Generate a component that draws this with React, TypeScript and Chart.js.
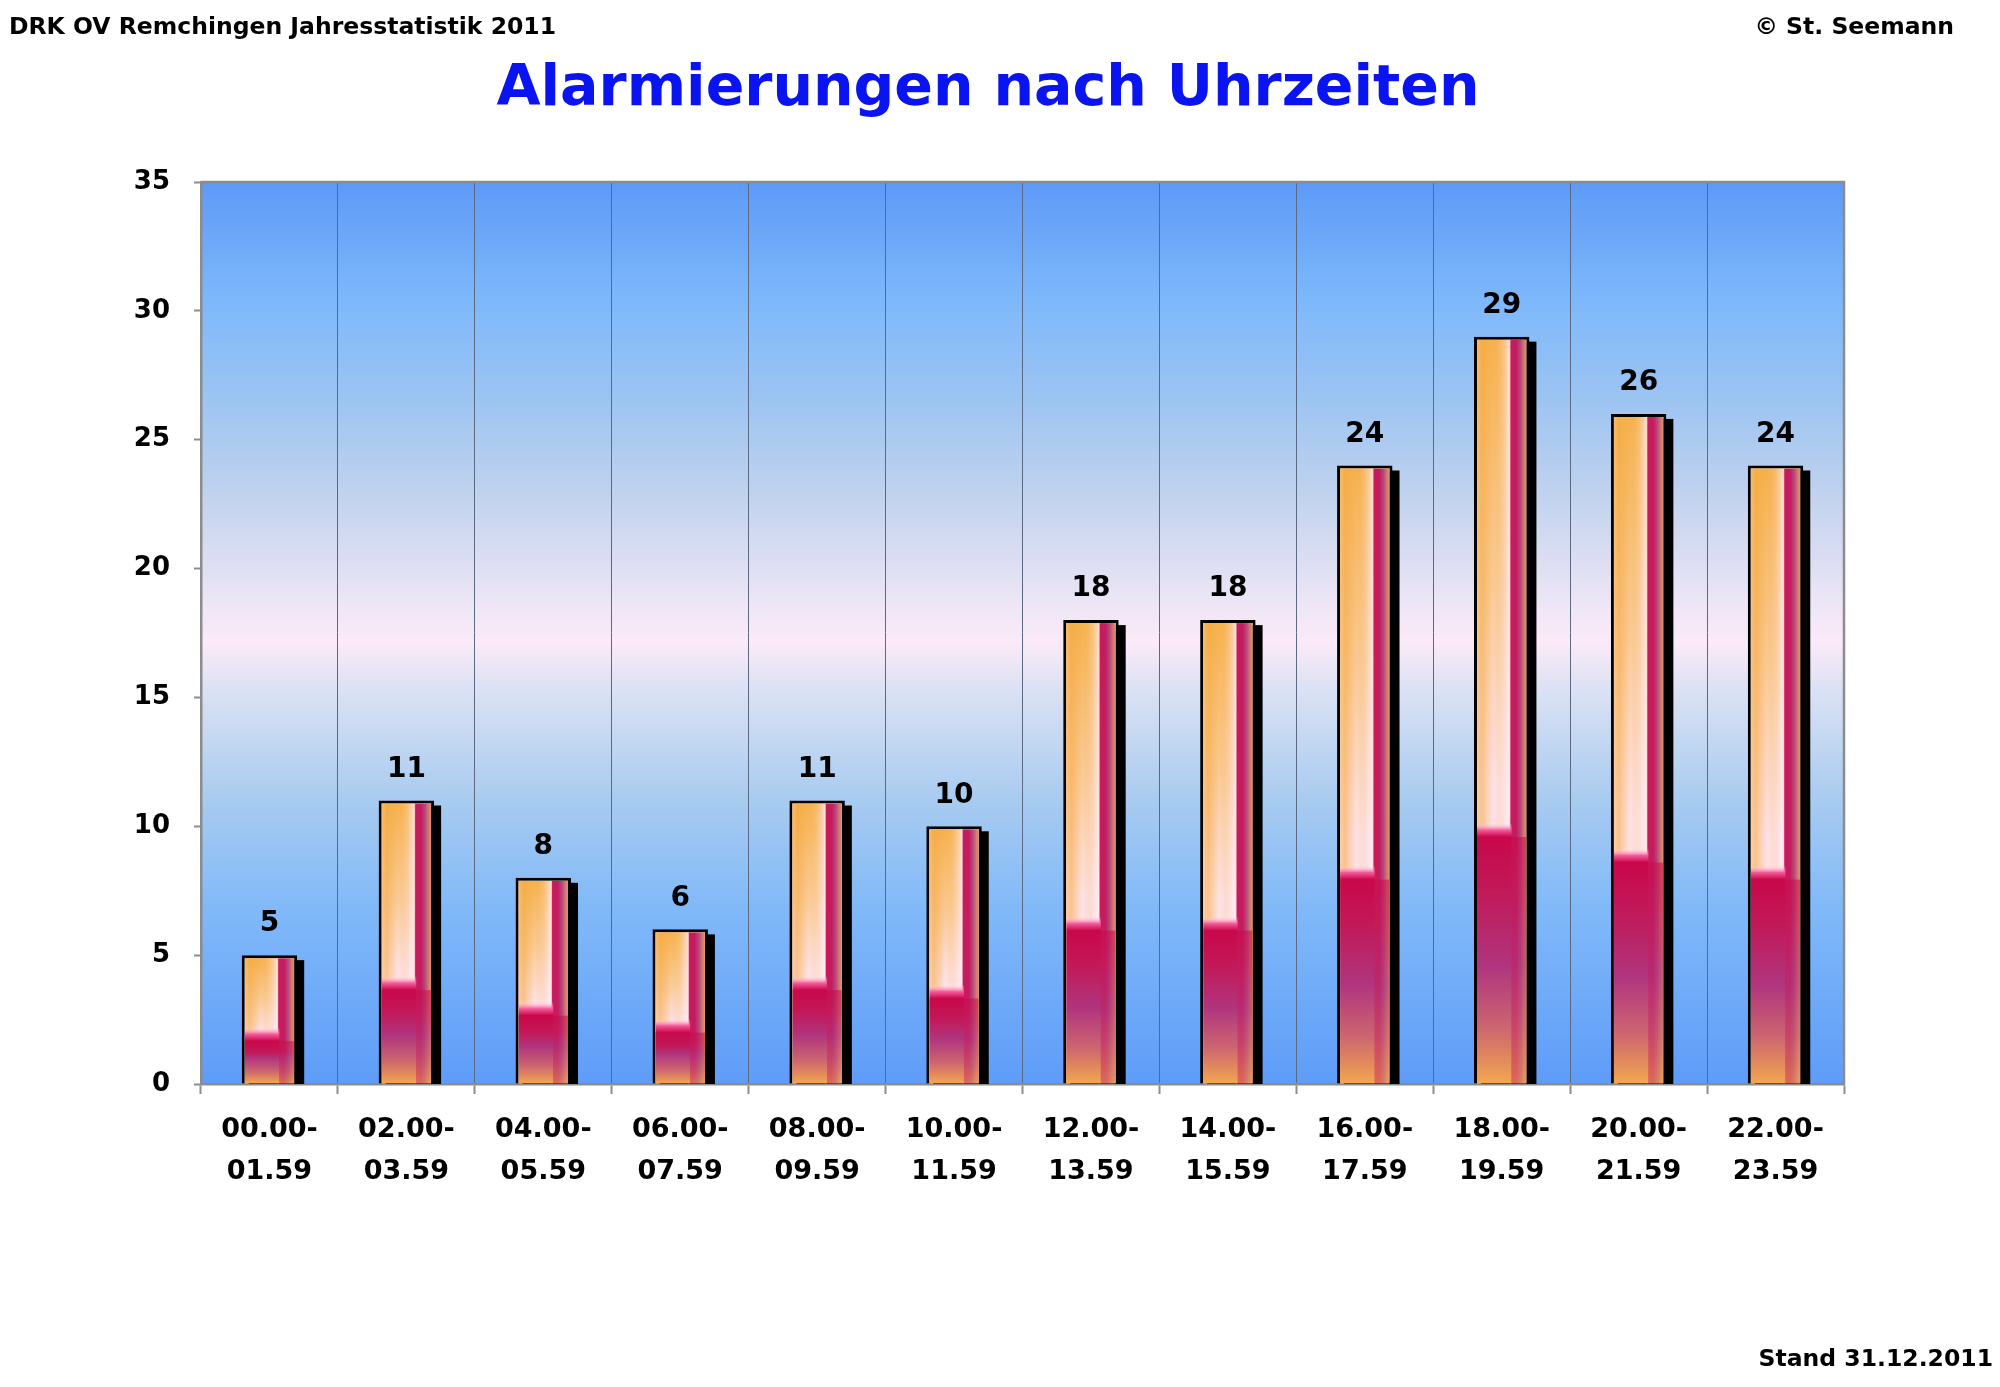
import React, { useRef, useEffect } from "react";
import { Chart, registerables } from "chart.js";

Chart.register(...registerables);

const timeSlots = [
  ["00.00-", "01.59"],
  ["02.00-", "03.59"],
  ["04.00-", "05.59"],
  ["06.00-", "07.59"],
  ["08.00-", "09.59"],
  ["10.00-", "11.59"],
  ["12.00-", "13.59"],
  ["14.00-", "15.59"],
  ["16.00-", "17.59"],
  ["18.00-", "19.59"],
  ["20.00-", "21.59"],
  ["22.00-", "23.59"],
];
const alarmCounts = [5, 11, 8, 6, 11, 10, 18, 18, 24, 29, 26, 24];

const FONT = "'DejaVu Sans', sans-serif";

// sky-like backdrop behind the bars + grey frame on top/right
const plotBackground = {
  id: "plotBackground",
  beforeDraw(chart: any) {
    const { ctx, chartArea: a } = chart;
    const g = ctx.createLinearGradient(0, a.top, 0, a.bottom);
    g.addColorStop(0, "#5e99f7");
    g.addColorStop(0.13, "#7db8fb");
    g.addColorStop(0.24, "#9cc4f2");
    g.addColorStop(0.35, "#c2d3ee");
    g.addColorStop(0.47, "#eee6f6");
    g.addColorStop(0.51, "#fceaf8");
    g.addColorStop(0.56, "#dce2f4");
    g.addColorStop(0.68, "#aaccf0");
    g.addColorStop(0.8, "#82baf8");
    g.addColorStop(1, "#5e9cf8");
    ctx.save();
    ctx.fillStyle = g;
    ctx.fillRect(a.left, a.top, a.width, a.height);
    ctx.restore();
  },
  afterDraw(chart: any) {
    const { ctx, chartArea: a } = chart;
    ctx.save();
    ctx.strokeStyle = "#8c8c8c";
    ctx.lineWidth = 2.5;
    ctx.beginPath();
    ctx.moveTo(a.left, a.top);
    ctx.lineTo(a.right, a.top);
    ctx.lineTo(a.right, a.bottom);
    ctx.stroke();
    ctx.restore();
  },
};

// drop shadow, tube-like fill and value labels for every bar
const barArt = {
  id: "barArt",
  beforeDatasetsDraw(chart: any) {
    const { ctx, chartArea: a } = chart;
    const meta = chart.getDatasetMeta(0);
    ctx.save();
    ctx.beginPath();
    ctx.rect(a.left, a.top, a.width, a.height);
    ctx.clip();
    ctx.fillStyle = "#000";
    meta.data.forEach((el: any) => {
      const { x, y, base, width } = el.getProps(["x", "y", "base", "width"], true);
      ctx.fillRect(x - width / 2 + 7, y + 5, width, base - y);
    });
    ctx.restore();
  },
  afterDatasetsDraw(chart: any) {
    const { ctx } = chart;
    const meta = chart.getDatasetMeta(0);
    const bw = 3;
    meta.data.forEach((el: any, i: number) => {
      const { x, y, base, width } = el.getProps(["x", "y", "base", "width"], true);
      const L = x - width / 2 + bw;
      const R = x + width / 2 - bw;
      const T = y + bw;
      const B = base;
      const W = R - L;
      const H = B - T;
      const S = B - (base - y) * 0.33;
      const splitX = L + W * 0.66;

      ctx.save();
      ctx.beginPath();
      ctx.rect(L, T, W, H);
      ctx.clip();

      // upper left part: orange fading to pale pink
      let g = ctx.createLinearGradient(0, T, 0, S);
      g.addColorStop(0, "#f6b24e");
      g.addColorStop(0.5, "#facb98");
      g.addColorStop(0.9, "#ffe3ea");
      g.addColorStop(1, "#ffe3ea");
      ctx.fillStyle = g;
      ctx.fillRect(L, T, splitX - L, S - T);
      g = ctx.createLinearGradient(L, 0, splitX, 0);
      g.addColorStop(0, "rgba(248,192,128,0.6)");
      g.addColorStop(0.15, "rgba(245,168,64,0.55)");
      g.addColorStop(0.5, "rgba(245,168,64,0)");
      g.addColorStop(0.9, "rgba(255,232,240,0.5)");
      g.addColorStop(1, "rgba(255,236,242,0.8)");
      ctx.fillStyle = g;
      ctx.fillRect(L, T, splitX - L, S - T);

      // right strip
      g = ctx.createLinearGradient(splitX, 0, R, 0);
      g.addColorStop(0, "#fce4ec");
      g.addColorStop(0.08, "#c81a5c");
      g.addColorStop(0.4, "#c41c60");
      g.addColorStop(0.65, "#b84a7c");
      g.addColorStop(0.85, "#d07a70");
      g.addColorStop(1, "#e0946a");
      ctx.fillStyle = g;
      ctx.fillRect(splitX, T, R - splitX, H);

      // lower part: hot pink to crimson to purple to orange
      const bandTop = S - 14;
      g = ctx.createLinearGradient(0, bandTop, 0, B);
      const f = (v: number) => Math.min(1, Math.max(0, v));
      const lh = B - bandTop;
      g.addColorStop(0, "rgba(255,220,232,0)");
      g.addColorStop(f(7 / lh), "#f65a9c");
      g.addColorStop(f(14 / lh), "#c8084a");
      g.addColorStop(f(14 / lh + 0.2), "#c21858");
      g.addColorStop(0.55, "#b0357e");
      g.addColorStop(0.78, "#cc6470");
      g.addColorStop(0.92, "#e48e5a");
      g.addColorStop(1, "#f2a850");
      ctx.fillStyle = g;
      ctx.fillRect(L, bandTop, W * 0.7, lh);
      ctx.globalAlpha = 0.55;
      ctx.fillRect(L + W * 0.7, S, W * 0.3, B - S);
      ctx.restore();

      // value label
      ctx.save();
      ctx.font = `bold 28px ${FONT}`;
      ctx.fillStyle = "#000";
      ctx.textAlign = "center";
      ctx.textBaseline = "middle";
      ctx.fillText(String(alarmCounts[i]), x, y - 31);
      ctx.restore();
    });
  },
};

const App = () => {
  const chartRef = useRef<HTMLCanvasElement>(null);
  const chartInstanceRef = useRef<Chart | null>(null);

  useEffect(() => {
    if (!chartRef.current) return;
    const context = chartRef.current.getContext("2d");
    if (!context) return;
    if (chartInstanceRef.current) chartInstanceRef.current.destroy();

    chartInstanceRef.current = new Chart(context, {
      type: "bar",
      data: {
        labels: timeSlots,
        datasets: [
          {
            label: "Alarmierungen",
            data: alarmCounts,
            backgroundColor: "#f8be7a",
            borderColor: "#000",
            borderWidth: 3,
            categoryPercentage: 1,
            barPercentage: 0.405,
          },
        ],
      },
      options: {
        animation: false,
        responsive: true,
        maintainAspectRatio: false,
        layout: { padding: { left: 132, right: 156, top: 0, bottom: 0 } },
        plugins: {
          legend: { display: false },
          tooltip: { enabled: false },
          title: {
            display: true,
            text: "Alarmierungen nach Uhrzeiten",
            color: "#0a14f0",
            font: { family: FONT, size: 57, weight: "bold", lineHeight: 1.2 },
            padding: { top: 56, bottom: 57.6 },
          },
        },
        scales: {
          x: {
            afterFit: (scale: any) => {
              scale.height = 303;
            },
            grid: {
              offset: true,
              color: "#5b6a82",
              lineWidth: 1,
              tickColor: "#8c8c8c",
              tickWidth: 2,
              tickLength: 10,
            },
            border: { color: "#8c8c8c", width: 2.5 },
            ticks: {
              color: "#000",
              font: { family: FONT, size: 27, weight: "bold", lineHeight: 1.55 },
              padding: 15,
              maxRotation: 0,
              autoSkip: false,
            },
          },
          y: {
            min: 0,
            max: 35,
            afterFit: (scale: any) => {
              scale.width = 69;
            },
            grid: {
              drawOnChartArea: false,
              tickColor: "#8c8c8c",
              tickWidth: 2,
              tickLength: 7,
            },
            border: { color: "#8c8c8c", width: 2.5 },
            ticks: {
              stepSize: 5,
              color: "#000",
              font: { family: FONT, size: 26, weight: "bold" },
              padding: 24,
            },
          },
        },
      },
      plugins: [plotBackground, barArt],
    });

    return () => {
      if (chartInstanceRef.current) {
        chartInstanceRef.current.destroy();
        chartInstanceRef.current = null;
      }
    };
  }, []);

  const noteStyle: React.CSSProperties = {
    position: "absolute",
    fontFamily: FONT,
    fontWeight: "bold",
    fontSize: 23.5,
    color: "#000",
    whiteSpace: "nowrap",
    lineHeight: "28px",
  };

  return (
    <div
      style={{
        position: "fixed",
        left: 0,
        top: 0,
        width: "100vw",
        height: "100vh",
        background: "#fff",
      }}
    >
      <canvas ref={chartRef}></canvas>
      <div style={{ ...noteStyle, left: 9, top: 12 }}>
        DRK OV Remchingen Jahresstatistik 2011
      </div>
      <div style={{ ...noteStyle, right: 46, top: 12 }}>© St. Seemann</div>
      <div style={{ ...noteStyle, right: 7, top: 1344 }}>Stand 31.12.2011</div>
    </div>
  );
};

export default App;
